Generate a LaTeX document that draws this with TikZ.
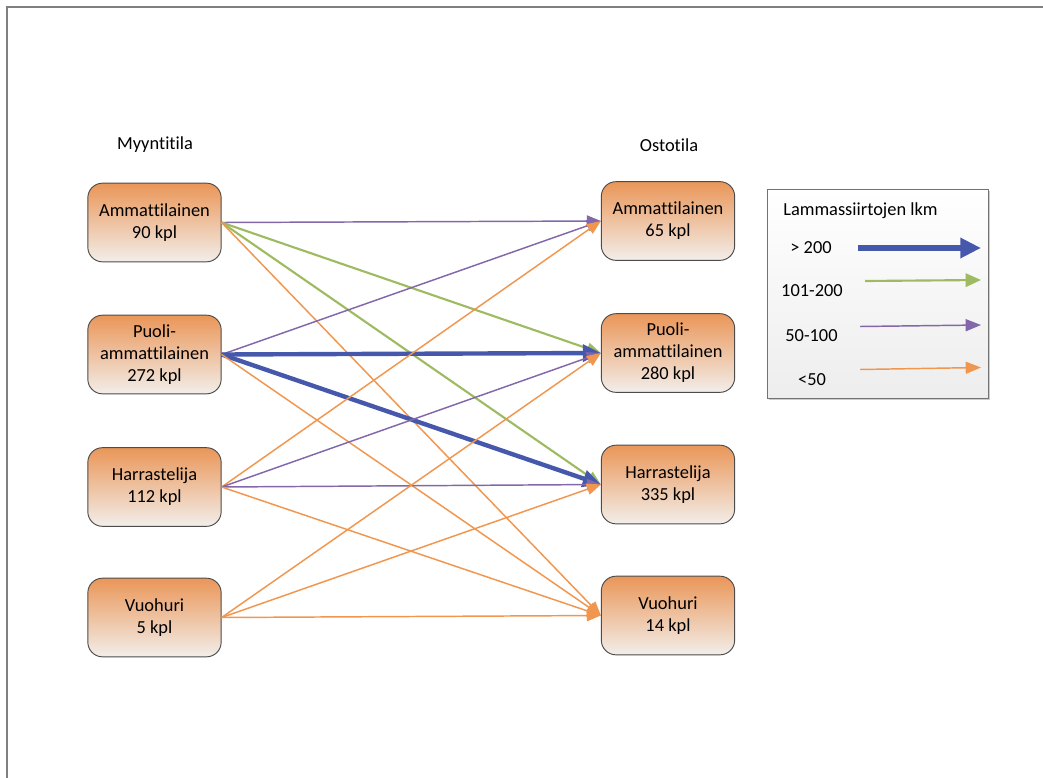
\documentclass[tikz,border=0pt]{standalone}
\usepackage{fontspec}
\setmainfont{Carlito}[Ligatures={NoCommon}]
\usepackage{tikz}
\usetikzlibrary{arrows.meta,positioning,shadows}
\definecolor{boxtop}{RGB}{234,150,88}
\definecolor{boxbot}{RGB}{242,238,234}
\definecolor{yliblue}{RGB}{70,88,172}
\definecolor{keskigreen}{RGB}{158,187,98}
\definecolor{pienipurple}{RGB}{130,104,170}
\definecolor{alleorange}{RGB}{240,150,78}
\begin{document}
\begin{tikzpicture}[x=0.75pt,y=-0.75pt,>={Triangle[length=10.5pt,width=8.5pt]},
farm/.style = {draw=black!70, line width=0.7pt, rounded corners=11pt, top color=boxtop, bottom color=boxbot, minimum width=100pt, minimum height=59pt, align=center, font=\fontsize{13.8}{16.5}\selectfont},
txt/.style = {font=\fontsize{13.8}{16.5}\selectfont, inner sep=0pt},
yli/.style = {->, draw=yliblue, line width=3.3pt, >={Triangle[length=13.5pt,width=12.5pt]}},
keski/.style = {->, draw=keskigreen, line width=1.6pt},
pieni/.style = {->, draw=pienipurple, line width=1.1pt},
alle/.style = {->, draw=alleorange, line width=1.1pt},]
\useasboundingbox (0,0) rectangle (1043,778);
\draw[gray, line width=1.6pt] (7,778)--(7,7)--(1043,7);
\node (myynti) at (155,145)[txt] {Myyntitila};
\node (osto) at (669,145)[txt] {Ostotila};
\node (MA) at (154.5,222.5)[farm] {Ammattilainen\\90 kpl};
\node (MP) at (154.5,354.5)[farm] {Puoli-\\ammattilainen\\272 kpl};
\node (MH) at (154.5,487)[farm] {Harrastelija\\112 kpl};
\node (MV) at (154.5,617.5)[farm] {Vuohuri\\5 kpl};
\node (OA) at (668,221)[farm] {Ammattilainen\\65 kpl};
\node (OP) at (668,353)[farm] {Puoli-\\ammattilainen\\280 kpl};
\node (OH) at (668,484.5)[farm] {Harrastelija\\335 kpl};
\node (OV) at (668,615.5)[farm] {Vuohuri\\14 kpl};
\draw[pieni] (MA.east)--(OA.west);
\draw[keski] (MA.east)--(OP.west);
\draw[keski] (MA.east)--(OH.west);
\draw[alle] (MA.east)--(OV.west);
\draw[pieni] (MP.east)--(OA.west);
\draw[yli] (MP.east)--(OP.west);
\draw[yli] (MP.east)--(OH.west);
\draw[alle] (MP.east)--(OV.west);
\draw[alle] (MH.east)--(OA.west);
\draw[pieni] (MH.east)--(OP.west);
\draw[pieni] (MH.east)--(OH.west);
\draw[alle] (MH.east)--(OV.west);
\draw[alle] (MV.east)--(OP.west);
\draw[alle] (MV.east)--(OH.west);
\draw[alle] (MV.east)--(OV.west);
\node (selite) at (877.5,293.5)[draw=black!55, line width=0.7pt, top color=white, bottom color=black!7, minimum width=165.75pt, minimum height=156.75pt, drop shadow={shadow xshift=1.5pt, shadow yshift=-1.5pt, fill=black!20, opacity=1}] {};
\node (otsikko) at (783,211)[txt, anchor=west] {Lammassiirtojen lkm};
\node (l1) at (811,248)[txt] {> 200};
\node (l2) at (812,291)[txt] {101-200};
\node (l3) at (811.5,336)[txt] {50-100};
\node (l4) at (812,380)[txt] {<50};
\coordinate (b1) at (858,248);
\coordinate (b2) at (981,248);
\coordinate (g1) at (865,281);
\coordinate (g2) at (981,280);
\coordinate (p1) at (860,326.5);
\coordinate (p2) at (981,325);
\coordinate (o1) at (860,369.5);
\coordinate (o2) at (981,367.5);
\draw[yli, line width=4pt, >={Triangle[length=15.5pt,width=14.5pt]}] (b1)--(b2);
\draw[keski, >={Triangle[length=11.5pt,width=10pt]}] (g1)--(g2);
\draw[pieni, >={Triangle[length=11.5pt,width=9pt]}] (p1)--(p2);
\draw[alle, >={Triangle[length=11.5pt,width=9pt]}] (o1)--(o2);
\end{tikzpicture}
\end{document}
